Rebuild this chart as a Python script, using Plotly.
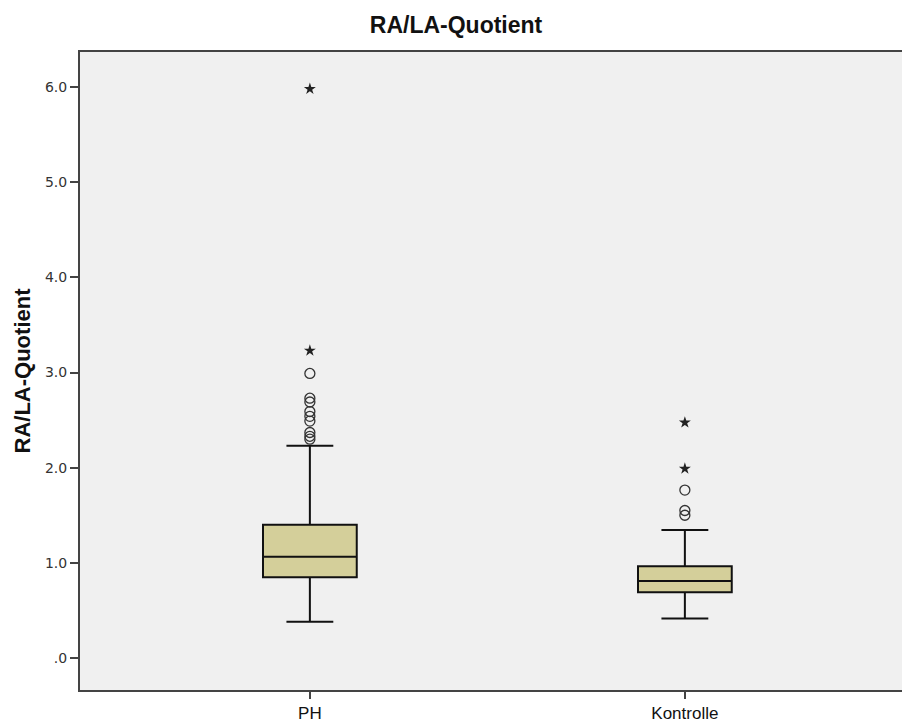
import plotly.graph_objects as go

categories = ["PH", "Kontrolle"]
q1 = [0.85, 0.69]
median = [1.065, 0.81]
q3 = [1.40, 0.965]
lower_whisker = [0.38, 0.415]
upper_whisker = [2.23, 1.345]

# outliers (circles) and extreme values (stars)
ph_circles = [2.99, 2.73, 2.69, 2.59, 2.54, 2.49, 2.37, 2.33, 2.30]
ph_stars = [3.23, 5.98]
ko_circles = [1.765, 1.55, 1.50]
ko_stars = [2.475, 1.99]

y_ticks = [0, 1, 2, 3, 4, 5, 6]
y_ticktext = [".0", "1.0", "2.0", "3.0", "4.0", "5.0", "6.0"]

fig = go.Figure()
fig.add_trace(go.Box(
    x=categories, q1=q1, median=median, q3=q3,
    lowerfence=lower_whisker, upperfence=upper_whisker,
    boxpoints=False, width=0.25, whiskerwidth=0.5,
    fillcolor="#d4cf9a", line=dict(color="#111111", width=2),
    showlegend=False, hoverinfo="skip"))

circ_x = [categories[0]] * len(ph_circles) + [categories[1]] * len(ko_circles)
circ_y = ph_circles + ko_circles
star_x = [categories[0]] * len(ph_stars) + [categories[1]] * len(ko_stars)
star_y = ph_stars + ko_stars

fig.add_trace(go.Scatter(
    x=circ_x, y=circ_y, mode="markers",
    marker=dict(symbol="circle-open", size=10, color="#333333", line=dict(width=1.3)),
    showlegend=False, hoverinfo="skip"))
fig.add_trace(go.Scatter(
    x=star_x, y=star_y, mode="markers",
    marker=dict(symbol="star", size=9, color="#222222"),
    showlegend=False, hoverinfo="skip"))

fig.update_layout(
    width=902, height=726,
    margin=dict(l=80, r=0, t=52, b=36),
    paper_bgcolor="white", plot_bgcolor="#f0f0f0",
    title=dict(text="<b>RA/LA-Quotient</b>", x=456 / 902, xanchor="center", y=0.965, yanchor="middle",
               font=dict(family="Liberation Sans, Arial", size=23, color="#111111")),
    font=dict(family="Liberation Sans, Arial", color="#222222"),
)
fig.update_xaxes(
    type="category", range=[-0.613, 1.579],
    showline=True, linecolor="#444444", linewidth=2, mirror=True,
    ticks="outside", ticklen=7, tickcolor="#444444", tickwidth=1.5,
    showgrid=False, zeroline=False,
    tickfont=dict(family="Liberation Sans, Arial", size=17, color="#111111"))
fig.update_yaxes(
    range=[-0.336, 6.368],
    tickvals=y_ticks, ticktext=y_ticktext,
    showline=True, linecolor="#444444", linewidth=2,
    ticks="outside", ticklen=8, tickcolor="#444444", tickwidth=1.5,
    showgrid=False, zeroline=False,
    tickfont=dict(family="DejaVu Sans, Verdana", size=14, color="#333333"),
    title=dict(text="<b>RA/LA-Quotient</b>", standoff=8,
               font=dict(family="Liberation Sans, Arial", size=22, color="#111111")))

fig.write_html("out.html")
